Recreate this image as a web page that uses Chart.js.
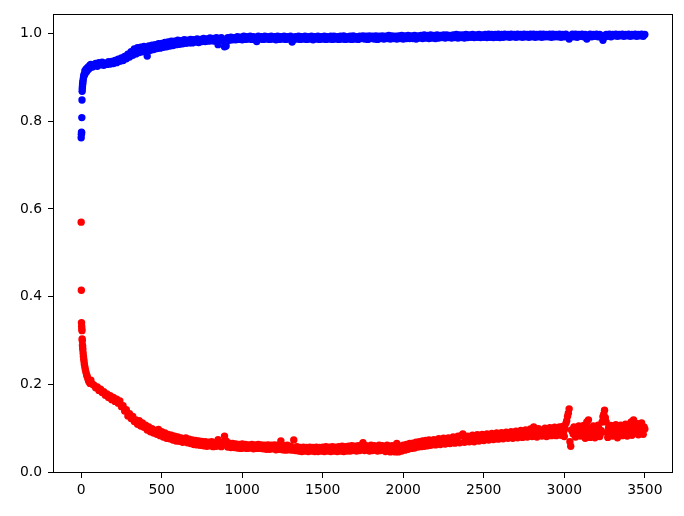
<!DOCTYPE html>
<html><head><meta charset="utf-8">
<script src="https://cdn.jsdelivr.net/npm/chart.js@4/dist/chart.umd.min.js"></script>
<style>html,body{margin:0;padding:0;background:#fff}#wrap{width:684px;height:516px}</style>
</head><body><div id="wrap"><canvas id="c" width="684" height="516"></canvas></div>
<script>
// first iterations (listed individually)
const earlyIterations = [0,1,2,3,4,5,6,7,8,9,10,12,14,16,18,20,23,26,30,34,38,42,46,50,55];
const blueEarly = [0.762,0.770,0.775,0.773,0.808,0.848,0.868,0.874,0.879,0.884,0.888,0.893,0.898,0.902,0.906,0.905,0.914,0.909,0.918,0.913,0.921,0.917,0.924,0.920,0.927];
const redEarly  = [0.570,0.415,0.341,0.333,0.327,0.323,0.304,0.300,0.290,0.286,0.280,0.272,0.265,0.258,0.252,0.246,0.240,0.234,0.228,0.222,0.218,0.213,0.209,0.206,0.203];

// later iterations: 60, 70, 80, ... 3500
const mainStart = 60, mainStep = 10;
const blueMain = [
0.929,0.923,0.927,0.931,0.925,0.933,0.928,0.934,0.927,0.932,
0.929,0.935,0.930,0.936,0.931,0.938,0.933,0.941,0.936,0.944,
0.938,0.947,0.942,0.952,0.946,0.958,0.950,0.964,0.953,0.967,
0.956,0.968,0.958,0.970,0.960,0.948,0.971,0.961,0.973,0.963,
0.974,0.965,0.976,0.966,0.977,0.968,0.979,0.969,0.980,0.971,
0.982,0.972,0.982,0.974,0.984,0.975,0.983,0.976,0.985,0.977,
0.984,0.978,0.986,0.978,0.985,0.980,0.987,0.979,0.986,0.981,
0.988,0.981,0.987,0.982,0.989,0.983,0.988,0.982,0.990,0.974,
0.984,0.990,0.983,0.969,0.971,0.990,0.984,0.991,0.985,0.990,
0.985,0.992,0.986,0.991,0.985,0.993,0.986,0.992,0.987,0.993,
0.986,0.992,0.985,0.981,0.993,0.987,0.992,0.986,0.993,0.987,
0.992,0.986,0.993,0.987,0.992,0.985,0.993,0.986,0.992,0.987,
0.993,0.986,0.992,0.987,0.993,0.980,0.986,0.992,0.987,0.993,
0.986,0.992,0.987,0.993,0.986,0.992,0.987,0.993,0.985,0.992,
0.987,0.993,0.986,0.992,0.987,0.993,0.986,0.992,0.987,0.993,
0.986,0.993,0.987,0.992,0.986,0.993,0.987,0.994,0.986,0.992,
0.987,0.993,0.986,0.994,0.987,0.992,0.986,0.993,0.988,0.994,
0.987,0.993,0.986,0.994,0.988,0.993,0.987,0.994,0.986,0.993,
0.988,0.994,0.987,0.993,0.988,0.995,0.987,0.994,0.988,0.993,
0.987,0.994,0.988,0.995,0.987,0.994,0.988,0.995,0.988,0.994,
0.988,0.995,0.987,0.994,0.989,0.995,0.988,0.996,0.989,0.995,
0.988,0.996,0.989,0.995,0.988,0.996,0.989,0.995,0.990,0.996,
0.989,0.996,0.990,0.995,0.989,0.996,0.990,0.997,0.989,0.996,
0.990,0.996,0.989,0.997,0.990,0.996,0.991,0.997,0.990,0.996,
0.991,0.997,0.990,0.996,0.991,0.997,0.990,0.998,0.991,0.997,
0.990,0.997,0.991,0.998,0.990,0.997,0.991,0.998,0.992,0.997,
0.991,0.998,0.992,0.997,0.991,0.998,0.992,0.997,0.991,0.998,
0.992,0.997,0.991,0.998,0.992,0.998,0.991,0.997,0.992,0.998,
0.991,0.998,0.992,0.997,0.992,0.998,0.991,0.998,0.992,0.997,
0.992,0.998,0.991,0.997,0.992,0.998,0.993,0.987,0.992,0.998,
0.992,0.998,0.991,0.997,0.993,0.998,0.992,0.997,0.987,0.993,
0.998,0.992,0.997,0.993,0.998,0.992,0.997,0.993,0.984,0.992,
0.997,0.993,0.998,0.992,0.997,0.994,0.998,0.993,0.997,0.994,
0.998,0.993,0.997,0.994,0.998,0.993,0.997,0.994,0.998,0.993,
0.997,0.994,0.998,0.993,0.997
];
const redMain = [
0.210,0.201,0.199,0.193,0.195,0.187,0.190,0.182,0.184,0.176,
0.179,0.171,0.175,0.166,0.171,0.162,0.167,0.158,0.163,0.150,
0.152,0.140,0.143,0.129,0.134,0.123,0.128,0.116,0.120,0.110,
0.118,0.106,0.113,0.103,0.108,0.097,0.104,0.093,0.100,0.090,
0.096,0.087,0.098,0.084,0.093,0.081,0.090,0.078,0.087,0.077,
0.085,0.074,0.083,0.072,0.081,0.071,0.079,0.069,0.077,0.079,
0.068,0.076,0.066,0.074,0.064,0.073,0.063,0.072,0.062,0.071,
0.061,0.070,0.060,0.069,0.061,0.070,0.059,0.068,0.060,0.075,
0.068,0.059,0.069,0.083,0.072,0.058,0.067,0.057,0.066,0.057,
0.065,0.056,0.064,0.055,0.065,0.056,0.064,0.055,0.063,0.056,
0.064,0.054,0.063,0.055,0.064,0.055,0.063,0.054,0.062,0.053,
0.063,0.053,0.062,0.054,0.063,0.052,0.062,0.053,0.072,0.052,
0.061,0.051,0.062,0.052,0.060,0.051,0.074,0.050,0.059,0.049,
0.057,0.048,0.058,0.049,0.057,0.048,0.058,0.049,0.057,0.048,
0.058,0.048,0.057,0.049,0.058,0.048,0.059,0.049,0.058,0.048,
0.059,0.049,0.058,0.048,0.059,0.049,0.060,0.048,0.059,0.049,
0.060,0.049,0.061,0.050,0.060,0.049,0.061,0.050,0.062,0.068,
0.050,0.061,0.055,0.049,0.062,0.050,0.061,0.055,0.049,0.062,
0.050,0.061,0.055,0.048,0.062,0.054,0.047,0.061,0.055,0.047,
0.066,0.047,0.060,0.049,0.062,0.051,0.064,0.053,0.066,0.055,
0.067,0.056,0.069,0.058,0.070,0.059,0.072,0.060,0.073,0.061,
0.074,0.062,0.068,0.075,0.063,0.070,0.077,0.064,0.071,0.078,
0.065,0.072,0.079,0.066,0.073,0.081,0.067,0.074,0.083,0.068,
0.084,0.088,0.069,0.077,0.083,0.070,0.078,0.085,0.070,0.078,
0.086,0.072,0.079,0.087,0.073,0.080,0.088,0.074,0.081,0.089,
0.075,0.082,0.090,0.076,0.083,0.091,0.077,0.084,0.092,0.078,
0.085,0.093,0.078,0.086,0.094,0.079,0.087,0.096,0.080,0.089,
0.097,0.081,0.090,0.099,0.082,0.104,0.091,0.081,0.100,0.090,
0.083,0.092,0.101,0.082,0.093,0.102,0.084,0.093,0.103,0.084,
0.094,0.104,0.085,0.105,0.082,0.112,0.128,0.145,0.060,0.094,
0.104,0.081,0.093,0.106,0.083,0.095,0.107,0.078,0.115,0.120,
0.080,0.094,0.106,0.079,0.096,0.108,0.082,0.095,0.127,0.142,
0.115,0.080,0.096,0.107,0.083,0.097,0.109,0.079,0.095,0.108,
0.084,0.097,0.110,0.083,0.098,0.111,0.085,0.120,0.099,0.112,
0.086,0.100,0.113,0.087,0.099
];
// extra red points in the noisy tail: 2955, 2965, ... 3495
const lateStart = 2955, lateStep = 10;
const redLate = [
0.090,0.098,0.088,0.096,0.091,0.100,0.118,0.135,0.070,0.097,
0.088,0.099,0.090,0.100,0.087,0.101,0.089,0.099,0.108,0.091,
0.100,0.088,0.101,0.090,0.102,0.087,0.100,0.089,0.115,0.133,
0.125,0.091,0.102,0.089,0.103,0.090,0.101,0.092,0.104,0.090,
0.103,0.092,0.104,0.091,0.105,0.093,0.115,0.092,0.104,0.094,
0.105,0.093,0.106,0.092,0.104
];
const xTicks = [0,500,1000,1500,2000,2500,3000,3500];
const yTicks = [0.0,0.2,0.4,0.6,0.8,1.0];

function toPoints(early, main, late){
  const pts = early.map((v,i)=>({x:earlyIterations[i], y:v}));
  main.forEach((v,i)=>pts.push({x:mainStart+i*mainStep, y:v}));
  if (late) late.forEach((v,i)=>pts.push({x:lateStart+i*lateStep, y:v}));
  return pts;
}

const frame = {id:'frame', afterDatasetsDraw(chart){
  const {ctx, chartArea:a} = chart;
  ctx.save(); ctx.strokeStyle='#000'; ctx.lineWidth=1;
  ctx.strokeRect(Math.round(a.left)+0.5, Math.round(a.top)+0.5, Math.round(a.right-a.left)-1, Math.round(a.bottom-a.top)-1);
  ctx.restore();
}};

const tickFont = {family:'DejaVu Sans', size:13.9};
new Chart(document.getElementById('c'), {
  type:'scatter',
  data:{datasets:[
    {data:toPoints(blueEarly, blueMain), backgroundColor:'#0000ff', borderWidth:0, pointRadius:3.7, pointHoverRadius:3.7},
    {data:toPoints(redEarly, redMain, redLate), backgroundColor:'#ff0000', borderWidth:0, pointRadius:3.7, pointHoverRadius:3.7}
  ]},
  options:{
    responsive:false, animation:false, events:[],
    layout:{padding:{left:0,right:11,top:13,bottom:0}},
    plugins:{legend:{display:false}, tooltip:{enabled:false}},
    scales:{
      x:{type:'linear', min:-175, max:3675,
        afterBuildTicks(s){ s.ticks = xTicks.map(v=>({value:v})); },
        afterFit(s){ s.height = 43; },
        ticks:{font:tickFont, color:'#000', padding:4, maxRotation:0, autoSkip:false, callback:v=>String(v)},
        grid:{display:true, drawOnChartArea:false, drawTicks:true, tickLength:5, color:'#000', lineWidth:1},
        border:{display:false}},
      y:{type:'linear', min:-0.001, max:1.043,
        afterBuildTicks(s){ s.ticks = yTicks.map(v=>({value:v})); },
        afterFit(s){ s.width = 53; },
        ticks:{font:tickFont, color:'#000', padding:6, autoSkip:false, callback:v=>Number(v).toFixed(1)},
        grid:{display:true, drawOnChartArea:false, drawTicks:true, tickLength:5, color:'#000', lineWidth:1},
        border:{display:false}}
    }
  },
  plugins:[frame]
});
</script></body></html>
